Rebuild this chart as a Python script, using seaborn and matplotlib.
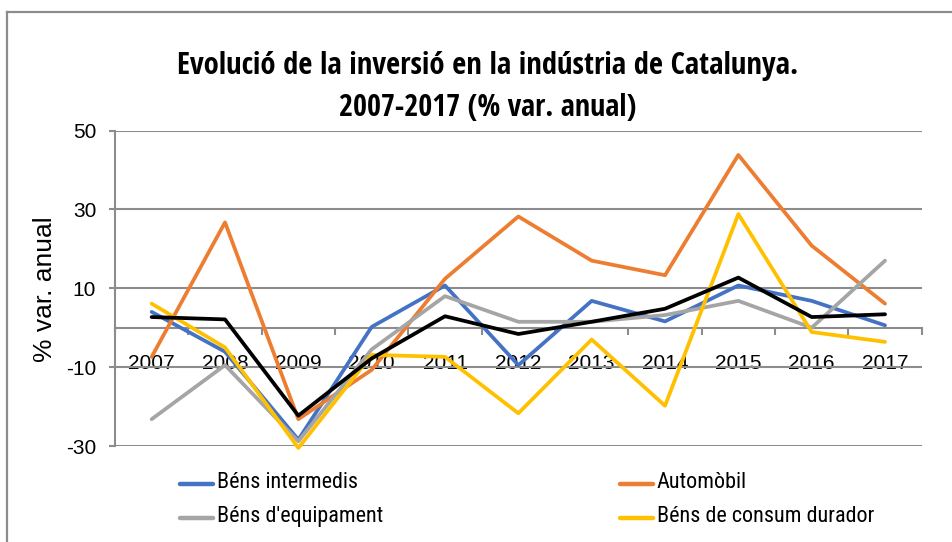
import numpy as np
import pandas as pd
import matplotlib
matplotlib.use("Agg")
import matplotlib.pyplot as plt
from matplotlib import font_manager as fm
from matplotlib.font_manager import FontProperties
from matplotlib.lines import Line2D
from matplotlib.ticker import FixedLocator
import seaborn as sns

# ---------------- data ----------------
years = [2007, 2008, 2009, 2010, 2011, 2012, 2013, 2014, 2015, 2016, 2017]
bens_intermedis = [4.0, -6.1, -28.4, 0.2, 10.7, -9.5, 6.8, 1.6, 10.7, 6.8, 0.6]
automobil = [-7.4, 26.7, -23.2, -10.7, 12.4, 28.2, 17.0, 13.3, 43.8, 20.8, 6.1]
bens_equipament = [-23.2, -9.5, -28.8, -5.5, 8.0, 1.5, 1.5, 3.2, 6.8, 0.0, 17.0]
bens_consum_durador = [6.1, -5.0, -30.5, -6.9, -7.4, -21.7, -3.0, -19.8, 28.8, -1.1, -3.6]
total_industria = [2.7, 2.1, -22.3, -7.8, 2.9, -1.6, 1.5, 4.8, 12.7, 2.7, 3.4]

series_names = ["Béns intermedis", "Automòbil", "Béns d'equipament",
                "Béns de consum durador", "Total"]
series_colors = ["#4472C4", "#ED7D31", "#A5A5A5", "#FFC000", "#000000"]
legend_order = ["Béns intermedis", "Béns d'equipament", "Automòbil", "Béns de consum durador"]
y_ticks = [-30, -10, 10, 30, 50]
title_lines = ["Evolució de la inversió en la indústria de Catalunya.",
               "2007-2017 (% var. anual)"]
y_label = "% var. anual"

df = pd.DataFrame({
    "year": years * 5,
    "value": bens_intermedis + automobil + bens_equipament + bens_consum_durador + total_industria,
    "series": sum([[n] * len(years) for n in series_names], []),
})

# ---------------- fonts ----------------
def _weight(f):
    w = f.weight
    if isinstance(w, str):
        w = fm.weight_dict.get(w, 400)
    return w

def pick_condensed(bold):
    pref = ["Liberation Sans Narrow", "Arial Narrow", "Noto Sans", "Open Sans",
            "Roboto", "DejaVu Sans", "Lato", "Inter"]
    best, best_score = None, None
    for f in fm.fontManager.ttflist:
        nm = f.name
        st = f.stretch if isinstance(f.stretch, str) else ""
        is_cond = ("Narrow" in nm or ("Condensed" in nm and "Extra" not in nm and "Ultra" not in nm)
                   or st in ("condensed", "semi-condensed"))
        if not is_cond or f.style != "normal" or "CJK" in nm or "Mono" in nm:
            continue
        if "Extra" in nm or "Ultra" in nm:
            continue
        target = 700 if bold else 400
        fam_rank = next((i for i, p in enumerate(pref) if nm.startswith(p)), len(pref))
        score = (abs(_weight(f) - target), fam_rank)
        if best_score is None or score < best_score:
            best, best_score = f, score
    if best is None:
        return FontProperties(family="Liberation Sans", weight="bold" if bold else "normal")
    return FontProperties(fname=best.fname)

fp_title = pick_condensed(True)
fp_leg = pick_condensed(False)
fp_norm = FontProperties(family=["Liberation Sans", "DejaVu Sans"])

W, H = 952, 542
fig = plt.figure(figsize=(W / 100, H / 100), dpi=100)
fig.patch.set_facecolor("white")

def fit_size(text, fp, target_px, size0=14):
    t = fig.text(0, 0, text, fontproperties=fp, size=size0)
    fig.canvas.draw()
    w = t.get_window_extent().width
    t.remove()
    return size0 * target_px / w

# ---------------- axes ----------------
L, R, T, B = 115, 921.7, 130.5, 446
ax = fig.add_axes([L / W, 1 - B / H, (R - L) / W, (B - T) / H])
sns.lineplot(data=df, x="year", y="value", hue="series", hue_order=series_names,
             palette=series_colors, linewidth=2.7, ax=ax, legend=True,
             solid_capstyle="round", solid_joinstyle="round", clip_on=False)
leg0 = ax.get_legend()
h_all = list(leg0.legend_handles)
l_all = [t.get_text() for t in leg0.get_texts()]
leg0.remove()
hmap = dict(zip(l_all, h_all))

ax.set_xlim(2006.5, 2017.5)
ax.set_ylim(-30, 50)
ax.set_xlabel("")
ax.set_ylabel("")
ax.set_facecolor("white")

gray = "#8C8C8C"
ax.set_yticks(y_ticks)
ax.yaxis.grid(True, color=gray, linewidth=1.5)
ax.xaxis.grid(False)
ax.set_axisbelow(True)
for s in ["top", "right"]:
    ax.spines[s].set_visible(False)
ax.spines["bottom"].set_position(("data", 0))
for s in ["bottom", "left"]:
    ax.spines[s].set_color(gray)
    ax.spines[s].set_linewidth(1.5)
    ax.spines[s].set_zorder(1.5)

ax.set_xticks(years)
ax.set_xticklabels([str(y) for y in years])
ax.xaxis.set_minor_locator(FixedLocator(np.arange(2006.5, 2018.0, 1.0)))
ax.tick_params(axis="x", which="major", length=0, pad=19)
ax.tick_params(axis="x", which="minor", length=5, width=1.5, color=gray, direction="out")
ax.tick_params(axis="y", which="major", length=4.5, width=1.5, color=gray, pad=9)
ax.set_yticklabels([str(v) for v in y_ticks])
for lab in ax.get_xticklabels() + ax.get_yticklabels():
    lab.set_fontproperties(fp_norm)
    lab.set_fontsize(15)
    lab.set_color("black")

# y label
fig.text(45 / W, 1 - 289 / H, y_label, rotation=90, ha="center", va="center",
         fontproperties=fp_norm, fontsize=19, color="black")

# ---------------- title ----------------
s1 = fit_size(title_lines[0], fp_title, 625)
s2 = fit_size(title_lines[1], fp_title, 300)
ts = (s1 + s2) / 2
cap = 0.72 * ts * 100 / 72
fig.text(487.5 / W, 1 - (74 - (22 - cap) / 2) / H, title_lines[0], ha="center", va="baseline",
         fontproperties=fp_title, size=s1, color="black")
fig.text(487.5 / W, 1 - (116 - (22 - cap) / 2) / H, title_lines[1], ha="center", va="baseline",
         fontproperties=fp_title, size=s2, color="black")

# ---------------- legend ----------------
ls = fit_size("Béns de consum durador", fp_leg, 218)
fs_px = ls * 100 / 72
handles = []
for name in legend_order:
    c = series_colors[series_names.index(name)]
    h = hmap.get(name)
    if h is None:
        h = Line2D([], [], color=c)
    h.set_linewidth(3.2)
    h.set_solid_capstyle("round")
    handles.append(h)

colsp = 188 / fs_px
labsp = 0.5
anchor_y = 471.0

def make_legend():
    lg = fig.legend(handles, legend_order, ncol=2, loc="upper left",
                    bbox_to_anchor=(180 / W, 1 - anchor_y / H), frameon=False,
                    borderpad=0, borderaxespad=0, handlelength=53 / fs_px,
                    handletextpad=6 / fs_px, columnspacing=colsp, labelspacing=labsp,
                    prop=fp_leg)
    for t in lg.get_texts():
        t.set_fontsize(ls)
    return lg

for _ in range(4):
    leg = make_legend()
    fig.canvas.draw()
    ex = [t.get_window_extent() for t in leg.get_texts()]
    c_row1 = H - (ex[0].y0 + ex[0].y1) / 2
    c_row2 = H - (ex[1].y0 + ex[1].y1) / 2
    col2_left = ex[2].x0
    leg.remove()
    colsp += (659 - col2_left) / fs_px
    labsp += (34 - (c_row2 - c_row1)) / fs_px
    anchor_y += 483 - c_row1
leg = make_legend()

# ---------------- outer frame ----------------
fig.add_artist(Line2D([7 / W, 7 / W], [1 - 12 / H, 0], transform=fig.transFigure,
                      color=gray, linewidth=1.6))
fig.add_artist(Line2D([7 / W, 1], [1 - 12 / H, 1 - 12 / H], transform=fig.transFigure,
                      color=gray, linewidth=1.6))

fig.savefig("out.png", dpi=100, facecolor="white")
